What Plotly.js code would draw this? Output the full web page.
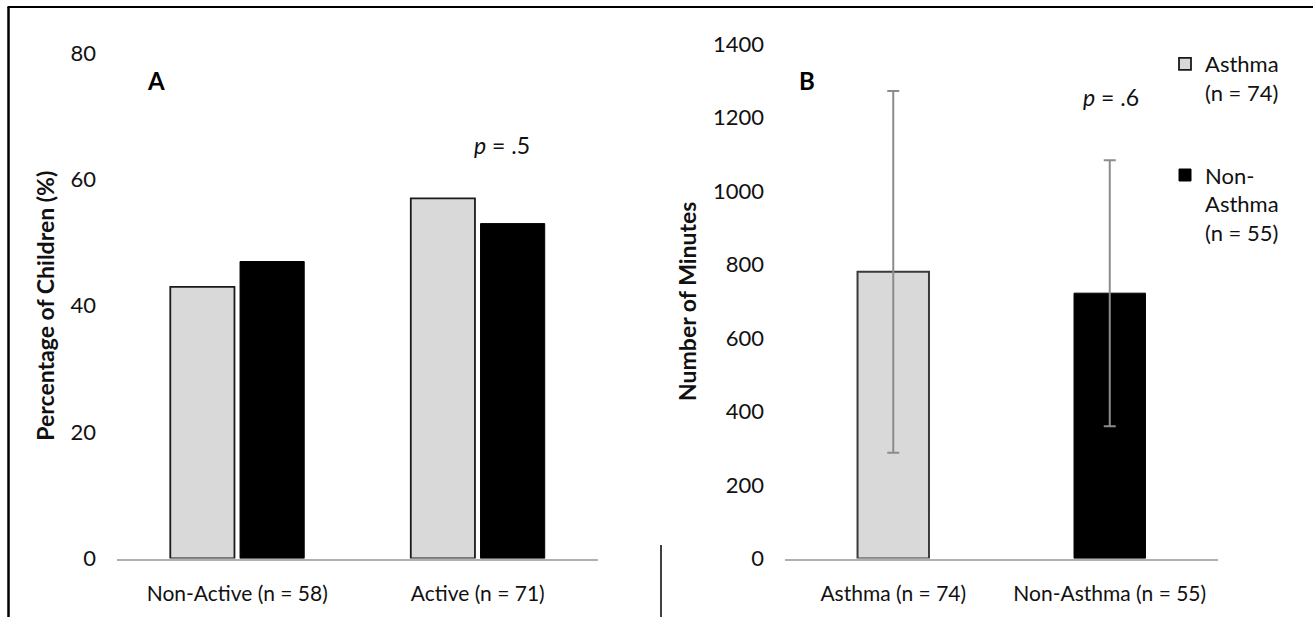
<!DOCTYPE html>
<html>
<head>
<meta charset="utf-8">
<script src="https://cdn.plot.ly/plotly-3.0.1.min.js"></script>
<style>html,body{margin:0;padding:0;background:#fff;}#chart{width:1313px;height:617px;}</style>
</head>
<body>
<div id="chart"></div>
<script>
// Panel A: activity level by group (percentage of children)
const categoriesA = ["Non-Active (n = 58)", "Active (n = 71)"];
const asthmaPct = [43, 57];
const nonAsthmaPct = [47, 53];
const yTicksA = [0, 20, 40, 60, 80];

// Panel B: number of minutes by group (mean with SD error bars)
const categoriesB = ["Asthma (n = 74)", "Non-Asthma (n = 55)"];
const minutesAsthma = [780];
const minutesNonAsthma = [722];
const sdAsthma = [492];
const sdNonAsthma = [362];
const yTicksB = [0, 200, 400, 600, 800, 1000, 1200, 1400];

const seriesNames = ["Asthma<br>(n = 74)", "Non-<br>Asthma<br>(n = 55)"];
const pLabels = ["<i>p</i> = .5", "<i>p</i> = .6"];

const W = 1313, H = 617;
const px = v => v / W;
const py = v => 1 - v / H;

const FONT = "Lato, 'Open Sans', sans-serif";
const TXT = "#111111";
const GRAY = "#d9d9d9";
const ERR = "#8c8c8c";

const traces = [
  {type: "bar", x: categoriesA, y: asthmaPct, name: seriesNames[0], legendgroup: "asthma",
   xaxis: "x", yaxis: "y", marker: {color: GRAY, line: {color: "#1a1a1a", width: 1.8}}, hoverinfo: "y"},
  {type: "bar", x: categoriesA, y: nonAsthmaPct, name: seriesNames[1], legendgroup: "nonasthma",
   xaxis: "x", yaxis: "y", marker: {color: "#000000", line: {color: "#000000", width: 1}}, hoverinfo: "y"},
  {type: "bar", x: [categoriesB[0]], y: minutesAsthma, name: seriesNames[0], legendgroup: "asthma", showlegend: false,
   xaxis: "x2", yaxis: "y2", offsetgroup: "b", width: 0.33,
   marker: {color: GRAY, line: {color: "#3a3a3a", width: 2}},
   error_y: {type: "data", array: sdAsthma, visible: true, color: ERR, thickness: 2, width: 6}},
  {type: "bar", x: [categoriesB[1]], y: minutesNonAsthma, name: seriesNames[1], legendgroup: "nonasthma", showlegend: false,
   xaxis: "x2", yaxis: "y2", offsetgroup: "b", width: 0.33,
   marker: {color: "#000000", line: {color: "#000000", width: 1}},
   error_y: {type: "data", array: sdNonAsthma, visible: true, color: ERR, thickness: 2, width: 6}}
];

const yBottom = py(558.5);

const layout = {
  width: W, height: H,
  margin: {l: 0, r: 0, t: 0, b: 0, pad: 0},
  paper_bgcolor: "#fff", plot_bgcolor: "#fff",
  font: {family: FONT, size: 22, color: TXT},
  barmode: "group",
  bargap: 0.42,
  bargroupgap: 0.08,
  showlegend: true,
  legend: {
    x: px(1165), xanchor: "left", y: py(43), yanchor: "top",
    font: {family: FONT, size: 22, color: TXT},
    valign: "top", tracegroupgap: 51, traceorder: "grouped",
    bgcolor: "rgba(0,0,0,0)", borderwidth: 0
  },
  xaxis: {
    domain: [px(117), px(598)], anchor: "y",
    showline: true, linecolor: "#b0b0b0", linewidth: 2,
    ticks: "", showgrid: false, zeroline: false, fixedrange: true,
    tickfont: {family: FONT, size: 21, color: TXT}, ticklabelstandoff: 15
  },
  yaxis: {
    domain: [yBottom, py(53)], anchor: "x",
    range: [0, 80], tickvals: yTicksA, ticktext: yTicksA.map(String),
    showline: false, ticks: "", showgrid: false, zeroline: false, fixedrange: true,
    tickfont: {family: FONT, size: 22, color: TXT}, ticklabelstandoff: 20,
    title: {text: "<b>Percentage of Children (%)</b>", font: {family: FONT, size: 23, color: TXT}, standoff: 9}
  },
  xaxis2: {
    domain: [px(785), px(1218)], anchor: "y2",
    showline: true, linecolor: "#b0b0b0", linewidth: 2,
    ticks: "", showgrid: false, zeroline: false, fixedrange: true,
    tickfont: {family: FONT, size: 21, color: TXT}, ticklabelstandoff: 15
  },
  yaxis2: {
    domain: [yBottom, py(44)], anchor: "x2",
    range: [0, 1400], tickvals: yTicksB, ticktext: yTicksB.map(String),
    showline: false, ticks: "", showgrid: false, zeroline: false, fixedrange: true,
    tickfont: {family: FONT, size: 22, color: TXT}, ticklabelstandoff: 20,
    title: {text: "<b>Number of Minutes</b>", font: {family: FONT, size: 23, color: TXT}, standoff: 9}
  },
  annotations: [
    {xref: "paper", yref: "paper", x: px(156), y: py(80), text: "<b>A</b>", showarrow: false,
     xanchor: "center", yanchor: "middle", font: {family: FONT, size: 24, color: "#000"}},
    {xref: "paper", yref: "paper", x: px(807), y: py(80), text: "<b>B</b>", showarrow: false,
     xanchor: "center", yanchor: "middle", font: {family: FONT, size: 24, color: "#000"}},
    {xref: "paper", yref: "paper", x: px(502), y: py(145), text: pLabels[0], showarrow: false,
     xanchor: "center", yanchor: "middle", font: {family: FONT, size: 23, color: TXT}},
    {xref: "paper", yref: "paper", x: px(1111), y: py(97), text: pLabels[1], showarrow: false,
     xanchor: "center", yanchor: "middle", font: {family: FONT, size: 23, color: TXT}}
  ],
  shapes: [
    {type: "line", xref: "paper", yref: "paper", x0: px(8.5), x1: px(8.5), y0: py(7), y1: 0,
     line: {color: "#000", width: 2.5}},
    {type: "line", xref: "paper", yref: "paper", x0: px(7.5), x1: 1, y0: py(7), y1: py(7),
     line: {color: "#000", width: 2}},
    {type: "line", xref: "paper", yref: "paper", x0: px(661), x1: px(661), y0: py(545), y1: 0,
     line: {color: "#000", width: 1.5}}
  ]
};

Plotly.newPlot("chart", traces, layout, {displayModeBar: false, staticPlot: true});
</script>
</body>
</html>
